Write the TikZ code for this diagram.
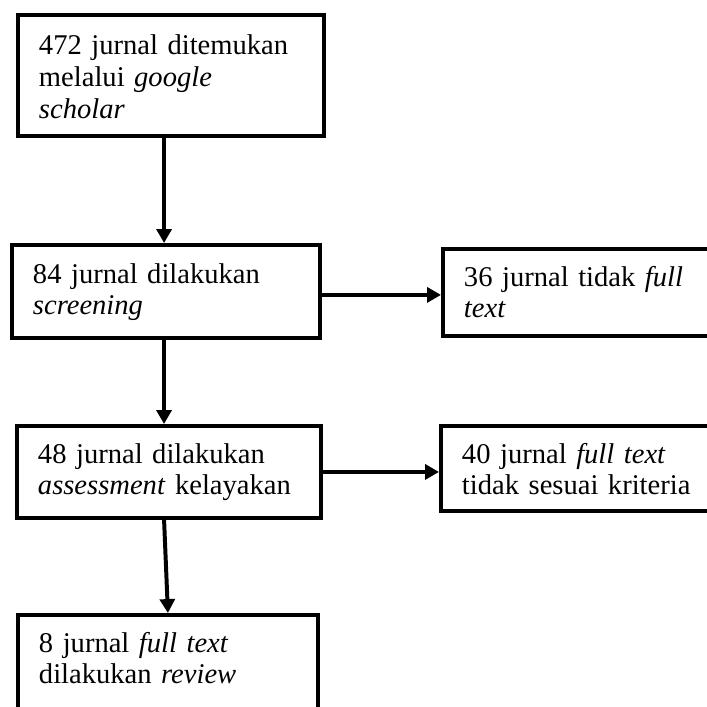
\documentclass[tikz,border=0pt]{standalone}
\usepackage{fontspec}
\setmainfont{Liberation Serif}
\usetikzlibrary{arrows.meta,calc}

\begin{document}
\begin{tikzpicture}[x=0.4025pt,y=-0.4025pt,
  box/.style={draw, line width=1.6pt, anchor=north west, inner xsep=8.45pt, inner ysep=0pt,
    align=left, font=\fontsize{11.5}{12.8}\selectfont},
  flow/.style={line width=1.6pt, -{Triangle[length=5.6pt,width=6pt]}}]
  \useasboundingbox (0,0) rectangle (707,707);
  \clip (0,0) rectangle (707,707);

  % left column
  \node[box, text width=106.3pt, text height=16.1pt, text depth=32.6pt] (found) at (16,13)
    {472 jurnal ditemukan\\ melalui \textit{google}\\ \textit{scholar}};
  \node[box, text width=107.1pt, text height=15.3pt, text depth=22.1pt] (screen) at (10,243)
    {84 jurnal dilakukan\\ \textit{screening}};
  \node[box, text width=105.5pt, text height=14.9pt, text depth=22.1pt] (assess) at (15,424)
    {48 jurnal dilakukan\\ \textit{assessment} kelayakan};
  \node[box, text width=103.8pt, text height=14.9pt, text depth=60.4pt] (review) at (16,613)
    {8 jurnal \textit{full text}\\ dilakukan \textit{review}};

  % excluded
  \node[box, text width=110.7pt, text height=14.9pt, text depth=20.1pt] (notfull) at (441,247)
    {36 jurnal tidak \textit{full}\\ \textit{text}};
  \node[box, text width=110.7pt, text height=14.9pt, text depth=19.3pt] (mismatch) at (439,424)
    {40 jurnal \textit{full text}\\ tidak sesuai kriteria};

  \draw[flow] ([xshift=-2.8pt]found.south) -- ([xshift=-2.8pt]found.south |- screen.north);
  \draw[flow] ([xshift=-0.8pt]screen.south) -- ([xshift=-0.8pt]screen.south |- assess.north);
  \draw[flow] ([xshift=-2pt]assess.south) -- (review.north);
  \draw[flow] ([yshift=-1.4pt]screen.east) -- ([yshift=-1.4pt]screen.east -| notfull.west);
  \draw[flow] (assess.east) -- (assess.east -| mismatch.west);
\end{tikzpicture}
\end{document}
